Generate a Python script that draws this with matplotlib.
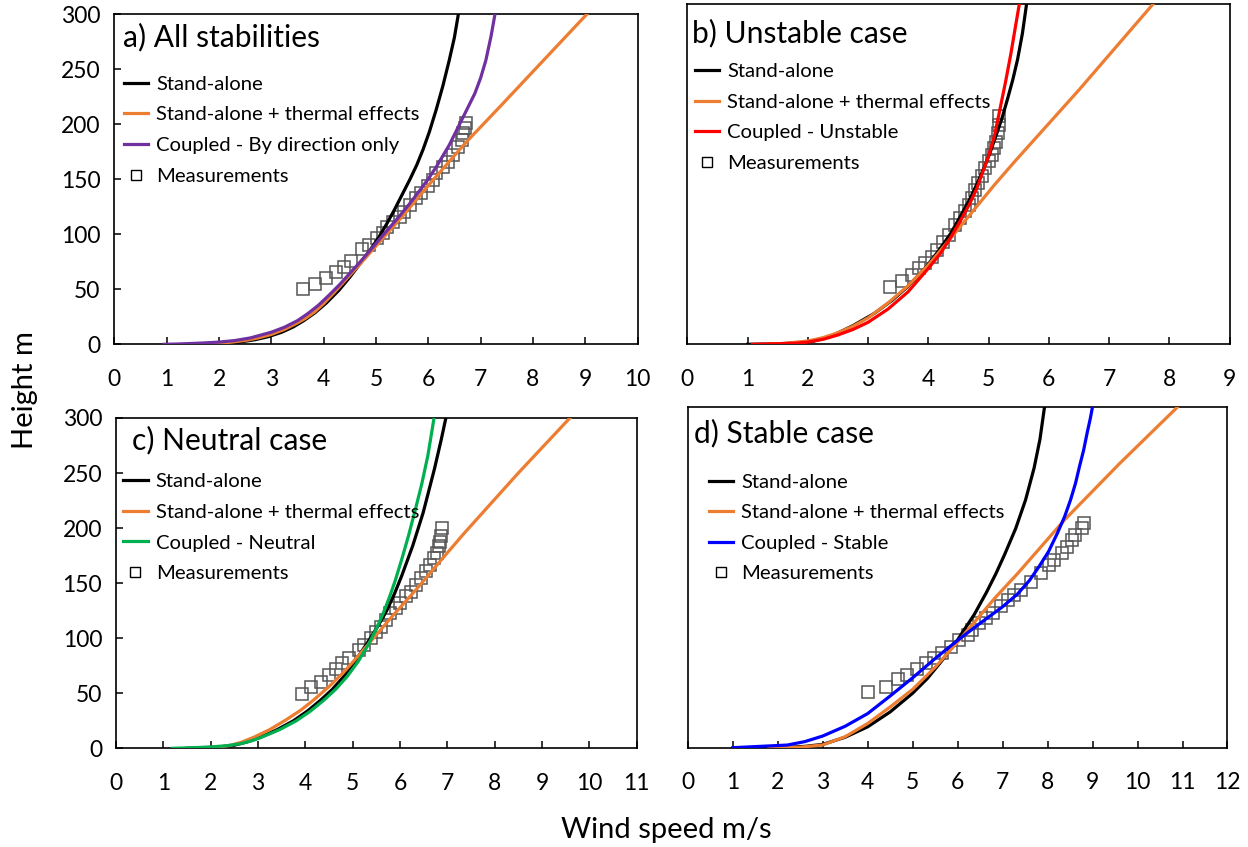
import matplotlib
matplotlib.use("Agg")
import matplotlib.pyplot as plt
from matplotlib.lines import Line2D

plt.rcParams['font.family'] = ['Lato', 'DejaVu Sans']

# ---------------- data ----------------
# Panel a) All stabilities
a_sa_u = [1.5, 1.8, 2.0, 2.2, 2.42, 2.7, 2.94, 3.2, 3.42, 3.62, 3.83, 4.05, 4.29, 4.5, 4.70, 4.88, 5.05,
          5.2, 5.35, 5.5, 5.65, 5.78, 5.9, 6.02, 6.15, 6.28, 6.40, 6.5, 6.575]
a_sa_z = [0, 0.2, 0.6, 1.2, 2.2, 4.3, 6.9, 11, 15.8, 21.5, 28.5, 37.5, 49, 61, 73.5, 85, 97,
          109, 122, 136, 150, 163, 177, 193, 213, 235, 258, 279, 300]
a_th_u = [1.3, 1.6, 2.0, 2.25, 2.5, 2.75, 3.0, 3.25, 3.5, 3.65, 3.83, 4.0, 4.2, 4.4, 4.6, 4.8, 5.05,
          5.5, 6.03, 6.73, 7.37, 8.2, 9.03]
a_th_z = [0, 0.3, 1, 2, 3.5, 5.8, 9, 13.5, 19.5, 23.5, 29.5, 37, 47, 57.5, 68, 78.5, 92,
          116, 146, 184, 216, 258, 300]
a_cp_u = [0.95, 1.3, 1.7, 2.0, 2.3, 2.6, 3.0, 3.25, 3.5, 3.7, 3.9, 4.1, 4.3, 4.5, 4.7, 4.9, 5.05,
          5.25, 5.45, 5.63, 5.80, 5.98, 6.15, 6.4, 6.64, 6.89, 7.0, 7.10, 7.2, 7.275]
a_cp_z = [0, 0.4, 1.2, 2, 3.4, 5.8, 11, 15.5, 21.5, 28, 35.5, 44.5, 54, 64.5, 75, 86, 94.5,
          105.5, 116.5, 127, 137.5, 149, 161, 181, 204, 228, 242, 258, 280, 300]
a_ms_u = [3.61, 3.84, 4.05, 4.23, 4.38, 4.52, 4.73, 4.86, 5.02, 5.14, 5.22, 5.33, 5.46, 5.54,
          5.65, 5.77, 5.87, 5.99, 6.09, 6.15, 6.28, 6.38, 6.47, 6.57, 6.64, 6.67, 6.70, 6.73]
a_ms_z = [50, 54.8, 60, 66, 70.6, 76, 86.3, 90.3, 96.3, 101, 107, 111.5, 116, 120.6,
          126.6, 133.3, 137.8, 143.9, 149.4, 155.4, 161.5, 166, 172, 179.6, 185.7, 191.8, 196.4, 200.9]

# Panel b) Unstable case
b_sa_u = [1.0, 1.4, 1.8, 2.1, 2.41, 2.75, 3.10, 3.4, 3.66, 3.96, 4.17, 4.37, 4.53, 4.68, 4.81, 4.93,
          5.03, 5.12, 5.22, 5.31, 5.4, 5.48, 5.56, 5.63]
b_sa_z = [0, 0.3, 1.1, 3, 8, 17, 28, 40, 52.5, 70, 85, 100.6, 116, 131, 146, 161,
          175, 189, 205, 222, 240, 258.5, 282, 309]
b_th_u = [1.3, 1.6, 2.0, 2.25, 2.5, 2.75, 3.0, 3.33, 3.66, 4.0, 4.35, 4.74, 5.1, 5.45, 6.5, 7.73]
b_th_z = [0, 0.8, 3, 6, 10.5, 16.5, 24, 37.5, 53, 72, 95, 121, 145, 167, 231, 309]
b_cp_u = [1.08, 1.5, 1.8, 2.0, 2.25, 2.5, 2.75, 3.0, 3.33, 3.66, 4.0, 4.2, 4.37, 4.53, 4.68, 4.80,
          4.90, 5.0, 5.1, 5.19, 5.28, 5.37, 5.45, 5.51]
b_cp_z = [0, 0.5, 1, 2, 4.5, 8.5, 13.5, 20, 32, 47.5, 69, 82.5, 97, 112, 127, 141,
          156, 171, 190, 214, 238, 264, 290, 309]
b_ms_u = [3.36, 3.56, 3.73, 3.85, 3.95, 4.06, 4.15, 4.25, 4.35, 4.45, 4.53, 4.61, 4.67, 4.72,
          4.77, 4.83, 4.89, 4.94, 5.00, 5.06, 5.09, 5.12, 5.15, 5.17, 5.17]
b_ms_z = [52.4, 57.5, 63, 69, 73.6, 79.7, 85.7, 93.3, 99.4, 108.5, 114.5, 120.6, 126.6, 132.7,
          140.3, 146.3, 152.4, 160, 166, 172, 178, 184, 191.8, 199.4, 207]

# Panel c) Neutral case
c_sa_u = [1.5, 2.0, 2.25, 2.49, 2.77, 3.05, 3.4, 3.75, 4.05, 4.32, 4.57, 4.81, 5.05, 5.30, 5.52,
          5.72, 5.89, 6.04, 6.27, 6.49, 6.73, 6.87, 6.97]
c_sa_z = [0, 0.8, 1.5, 2.7, 5.8, 10, 16.8, 25, 34, 43.6, 53.5, 65, 79, 95, 110,
          125, 141, 157, 184, 214, 254, 280, 300]
c_th_u = [1.6, 2.0, 2.2, 2.42, 2.65, 2.91, 3.25, 3.58, 3.9, 4.18, 4.5, 4.81, 5.1, 5.37, 5.84,
          6.4, 6.91, 7.35, 8.5, 9.59]
c_th_z = [0, 0.7, 1.4, 2.7, 5.5, 10, 17, 25.5, 34.5, 44, 56, 69, 83, 96.5, 120,
          147, 173, 195, 250, 300]
c_cp_u = [1.19, 1.6, 2.0, 2.35, 2.63, 2.85, 3.05, 3.45, 3.81, 4.1, 4.39, 4.65, 4.88, 5.12, 5.33,
          5.5, 5.65, 5.78, 5.89, 6.04, 6.18, 6.32, 6.46, 6.59, 6.72]
c_cp_z = [0, 0.5, 1.2, 2.4, 4.2, 6.6, 9.6, 16.8, 25, 33.5, 43.6, 54, 65, 79, 94,
          108.5, 123, 137.5, 151, 172, 193, 216, 240, 266, 300]
c_ms_u = [3.92, 4.13, 4.34, 4.50, 4.64, 4.78, 4.92, 5.13, 5.25, 5.39, 5.49, 5.59, 5.70, 5.80,
          5.91, 6.01, 6.12, 6.23, 6.33, 6.44, 6.54, 6.63, 6.72, 6.79, 6.82, 6.85, 6.87, 6.89]
c_ms_z = [49.4, 56, 60.6, 66.6, 71.8, 77.2, 81.8, 89.4, 93.9, 100.6, 106, 110.6, 116.6, 122.7,
          127.2, 132.4, 137.9, 142.4, 148.5, 154.5, 160.6, 166.6, 172.7, 177.2, 183.3, 187.8, 193, 200]

# Panel d) Stable case
d_sa_u = [1.5, 2.2, 2.6, 3.0, 3.5, 4.0, 4.5, 5.0, 5.33, 5.63, 6.0, 6.37, 6.64, 6.85, 7.04, 7.29,
          7.51, 7.70, 7.83, 7.93]
d_sa_z = [0, 0.4, 1.2, 3, 9.5, 19, 32.5, 49.5, 63, 78, 98, 121, 141, 158, 175, 199,
          225, 254, 280, 309]
d_th_u = [1.8, 2.5, 3.0, 3.5, 4.0, 4.5, 5.0, 5.5, 6.0, 6.83, 7.33, 8.38, 9.6, 10.88]
d_th_z = [0, 0.5, 2.5, 10, 22, 37, 53, 73, 96, 136, 158, 207, 258, 309]
d_cp_u = [1.0, 2.21, 2.6, 3.0, 3.5, 4.0, 4.5, 5.0, 5.5, 6.0, 6.5, 7.0, 7.33, 7.6, 7.81, 8.02,
          8.22, 8.38, 8.51, 8.62, 8.71, 8.80, 8.88, 8.95, 9.01]
d_cp_z = [0, 2.4, 5.5, 10.6, 19.5, 31, 47, 63.5, 81, 97.5, 113, 128, 139.5, 152, 164.5, 178,
          195, 210, 225, 240, 255.5, 270, 286, 299, 312]
d_ms_u = [4.01, 4.40, 4.67, 4.88, 5.10, 5.29, 5.48, 5.66, 5.86, 6.03, 6.22, 6.33, 6.48, 6.63,
          6.78, 6.96, 7.11, 7.26, 7.40, 7.62, 7.85, 8.03, 8.14, 8.33, 8.44, 8.55, 8.62, 8.77, 8.81]
d_ms_z = [51, 55.5, 62.5, 66, 71.2, 77.3, 81.8, 86.4, 91.2, 97.9, 102.4, 107, 113, 117.6,
          122.7, 128.8, 134.3, 138.8, 143.4, 150.9, 158.5, 166, 170.6, 176.6, 182.6, 188.6, 193.2, 199.2, 203.7]

lbl_sa = "Stand-alone"
lbl_th = "Stand-alone + thermal effects"
lbl_ms = "Measurements"
panel_titles = ["a) All stabilities", "b) Unstable case", "c) Neutral case", "d) Stable case"]
coupled_labels = ["Coupled - By direction only", "Coupled - Unstable", "Coupled - Neutral", "Coupled - Stable"]
coupled_colors = ["#7030A0", "#FF0000", "#00B050", "#0000FF"]
x_max = [10, 9, 11, 12]
y_max = [300, 309, 300, 309]
y_ticks = [0, 50, 100, 150, 200, 250, 300]

panels = [
    (a_sa_u, a_sa_z, a_th_u, a_th_z, a_cp_u, a_cp_z, a_ms_u, a_ms_z),
    (b_sa_u, b_sa_z, b_th_u, b_th_z, b_cp_u, b_cp_z, b_ms_u, b_ms_z),
    (c_sa_u, c_sa_z, c_th_u, c_th_z, c_cp_u, c_cp_z, c_ms_u, c_ms_z),
    (d_sa_u, d_sa_z, d_th_u, d_th_z, d_cp_u, d_cp_z, d_ms_u, d_ms_z),
]

# ---------------- layout ----------------
W, H = 1248, 847
fig = plt.figure(figsize=(W / 100, H / 100), dpi=100)

def px_axes(l, t, r, b):
    return fig.add_axes([l / W, 1 - b / H, (r - l) / W, (b - t) / H])

boxes = [(114.4, 14.3, 637.5, 344.3),
         (687.4, 4.0, 1229.6, 344.3),
         (116.0, 418.0, 636.6, 748.3),
         (687.8, 407.4, 1227.5, 747.7)]
title_pos = [(0.0164, 0.932), (0.0094, 0.915), (0.031, 0.933), (0.0108, 0.924)]
leg_pos = [(0.0174, 0.814), (0.014, 0.827), (0.014, 0.833), (0.0386, 0.806)]

ORANGE = "#ED7D31"
LW = 2.3
for i, (box, data) in enumerate(zip(boxes, panels)):
    ax = px_axes(*box)
    su, sz, tu, tz, cu, cz, mu, mz = data
    ax.plot(mu, mz, ls='none', marker='s', ms=8.3, mfc='none', mec='#555555', mew=1.1, zorder=2)
    ax.plot(su, sz, color='black', lw=LW, zorder=3)
    ax.plot(tu, tz, color=ORANGE, lw=LW, zorder=3)
    ax.plot(cu, cz, color=coupled_colors[i], lw=LW, zorder=4)
    ax.set_xlim(0, x_max[i])
    ax.set_ylim(0, y_max[i])
    ax.set_xticks(range(0, x_max[i] + 1))
    ax.tick_params(axis='x', direction='in', length=5, width=1.1, pad=17.5, labelsize=16.5)
    if i in (0, 2):
        ax.set_yticks(y_ticks)
        ax.tick_params(axis='y', direction='in', length=5, width=1.1, pad=10, labelsize=16.5)
    else:
        ax.set_yticks([])
    for s in ax.spines.values():
        s.set_linewidth(1.2)
        s.set_color('black')
    ax.text(title_pos[i][0], title_pos[i][1], panel_titles[i], transform=ax.transAxes,
            fontsize=21.6, ha='left', va='center')
    handles = [Line2D([], [], color='black', lw=LW),
               Line2D([], [], color=ORANGE, lw=LW),
               Line2D([], [], color=coupled_colors[i], lw=LW),
               Line2D([], [], ls='none', marker='s', ms=7, mfc='none', mec='black', mew=1.0)]
    ax.legend(handles, [lbl_sa, lbl_th, coupled_labels[i], lbl_ms], loc='upper left',
              bbox_to_anchor=leg_pos[i], frameon=False, borderpad=0, borderaxespad=0,
              handlelength=1.2, handletextpad=0.4, labelspacing=0.66, fontsize=14.6)

fig.text(25 / W, 1 - 390 / H, "Height m", rotation=90, ha='center', va='center', fontsize=21)
fig.text(666 / W, 1 - 830 / H, "Wind speed m/s", ha='center', va='center', fontsize=21)

fig.savefig("out.png", dpi=100)
